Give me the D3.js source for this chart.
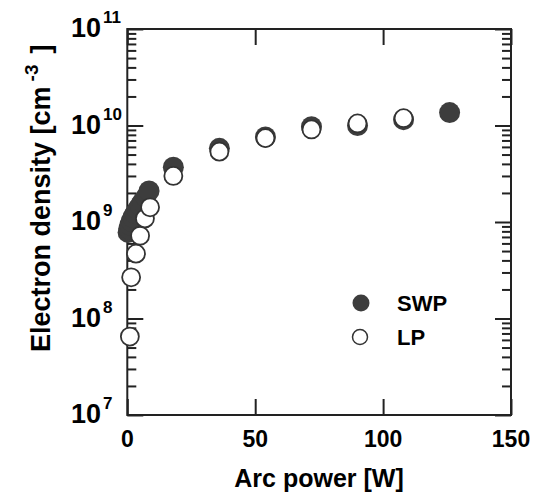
<!DOCTYPE html>
<html>
<head>
<meta charset="utf-8">
<script src="https://cdn.jsdelivr.net/npm/d3@7"></script>
<style>
  body { margin: 0; background: #fff; }
  svg { display: block; font-family: "Liberation Sans", Arial, sans-serif; font-weight: bold; }
  .frame { fill: none; stroke: #222; stroke-width: 2; }
  .tick line { stroke: #222; stroke-width: 2; }
  .domain { display: none; }
</style>
</head>
<body>
<svg width="539" height="494"></svg>
<script>
// arc power [W] and electron density [cm^-3]
const swpPower = [0.3, 0.6, 1.0, 1.5, 2.2, 3.0, 4.0, 5.0, 6.0, 7.2, 8.5, 18, 36, 54, 72, 90, 108, 126];
const swpDensity = [7.8e8, 8.5e8, 9.3e8, 1.02e9, 1.12e9, 1.22e9, 1.35e9, 1.48e9, 1.62e9, 1.8e9, 2.1e9,
                    3.7e9, 5.8e9, 7.6e9, 9.7e9, 1.0e10, 1.15e10, 1.36e10];
const lpPower = [1.0, 1.5, 3.4, 5.0, 6.9, 8.9, 18, 36, 54, 72, 90, 108];
const lpDensity = [6.5e7, 2.67e8, 4.7e8, 7.2e8, 1.09e9, 1.42e9, 3.0e9, 5.36e9, 7.4e9, 9.1e9, 1.05e10, 1.19e10];

const xTicks = [0, 50, 100, 150];
const yMajor = [1e7, 1e8, 1e9, 1e10, 1e11];
const seriesNames = ['SWP', 'LP'];

const svg = d3.select('svg');
const plot = { left: 127.3, right: 511, top: 29, bottom: 415 };

const x = d3.scaleLinear().domain([0, 150]).range([plot.left, plot.right]);
const y = d3.scaleLog().domain([1e7, 1e11]).range([plot.bottom, plot.top]);

const yMinor = y.ticks().filter(v => !yMajor.includes(v));

// ticks, all pointing inward
svg.append('g').attr('transform', `translate(${plot.left},0)`)
  .call(d3.axisLeft(y).tickValues(yMinor).tickSize(-9).tickFormat(''));
svg.append('g').attr('transform', `translate(${plot.left},0)`)
  .call(d3.axisLeft(y).tickValues(yMajor).tickSize(-16).tickFormat(''));
svg.append('g').attr('transform', `translate(${plot.right},0)`)
  .call(d3.axisRight(y).tickValues(yMinor).tickSize(-9).tickFormat(''));
svg.append('g').attr('transform', `translate(${plot.right},0)`)
  .call(d3.axisRight(y).tickValues(yMajor).tickSize(-16).tickFormat(''));
svg.append('g').attr('transform', `translate(0,${plot.bottom})`)
  .call(d3.axisBottom(x).tickValues(xTicks).tickSize(-16).tickFormat(''));
svg.append('g').attr('transform', `translate(0,${plot.top})`)
  .call(d3.axisTop(x).tickValues(xTicks).tickSize(-16).tickFormat(''));

svg.append('rect').attr('class', 'frame')
  .attr('x', plot.left).attr('y', plot.top)
  .attr('width', plot.right - plot.left).attr('height', plot.bottom - plot.top);

// x tick labels
svg.selectAll('.xl').data(xTicks).enter().append('text')
  .attr('x', d => x(d)).attr('y', 447)
  .attr('text-anchor', 'middle').attr('font-size', 23)
  .text(d => d);

// y tick labels as 10^n
svg.selectAll('.yl').data(yMajor).enter().append('text')
  .attr('x', 101).attr('y', d => y(d) + 8)
  .attr('font-size', 27).attr('text-anchor', 'end')
  .text('10');
svg.selectAll('.ye').data(yMajor).enter().append('text')
  .attr('x', 103).attr('y', d => y(d) - 6)
  .attr('font-size', 17)
  .text(d => Math.round(Math.log10(d)));

// axis titles
svg.append('text').attr('x', 319).attr('y', 487)
  .attr('text-anchor', 'middle').attr('font-size', 25)
  .text('Arc power [W]');

const yt = svg.append('text')
  .attr('transform', 'translate(50,352) rotate(-90)')
  .attr('font-size', 27);
yt.append('tspan').text('Electron density [cm');
yt.append('tspan').attr('font-size', 19).attr('dy', -12).attr('dx', 5).text('-3');
yt.append('tspan').attr('dy', 12).attr('dx', 11).text(']');

// data
const swp = swpPower.map((p, i) => ({ p, n: swpDensity[i] }));
const lp = lpPower.map((p, i) => ({ p, n: lpDensity[i] }));

svg.append('g').selectAll('circle').data(swp).enter().append('circle')
  .attr('cx', d => x(d.p)).attr('cy', d => y(d.n)).attr('r', 10.5)
  .attr('fill', '#3d3d3d');

svg.append('g').selectAll('circle').data(lp).enter().append('circle')
  .attr('cx', d => x(d.p)).attr('cy', d => y(d.n)).attr('r', 9)
  .attr('fill', '#fff').attr('stroke', '#333').attr('stroke-width', 1.8);

// legend
const legend = svg.append('g');
legend.append('circle').attr('cx', 361).attr('cy', 303).attr('r', 8.5).attr('fill', '#3d3d3d');
legend.append('circle').attr('cx', 360).attr('cy', 337).attr('r', 7.5)
  .attr('fill', '#fff').attr('stroke', '#333').attr('stroke-width', 1.5);
legend.selectAll('text').data(seriesNames).enter().append('text')
  .attr('x', 397).attr('y', (d, i) => 311 + i * 34)
  .attr('font-size', 22)
  .text(d => d);
</script>
</body>
</html>
